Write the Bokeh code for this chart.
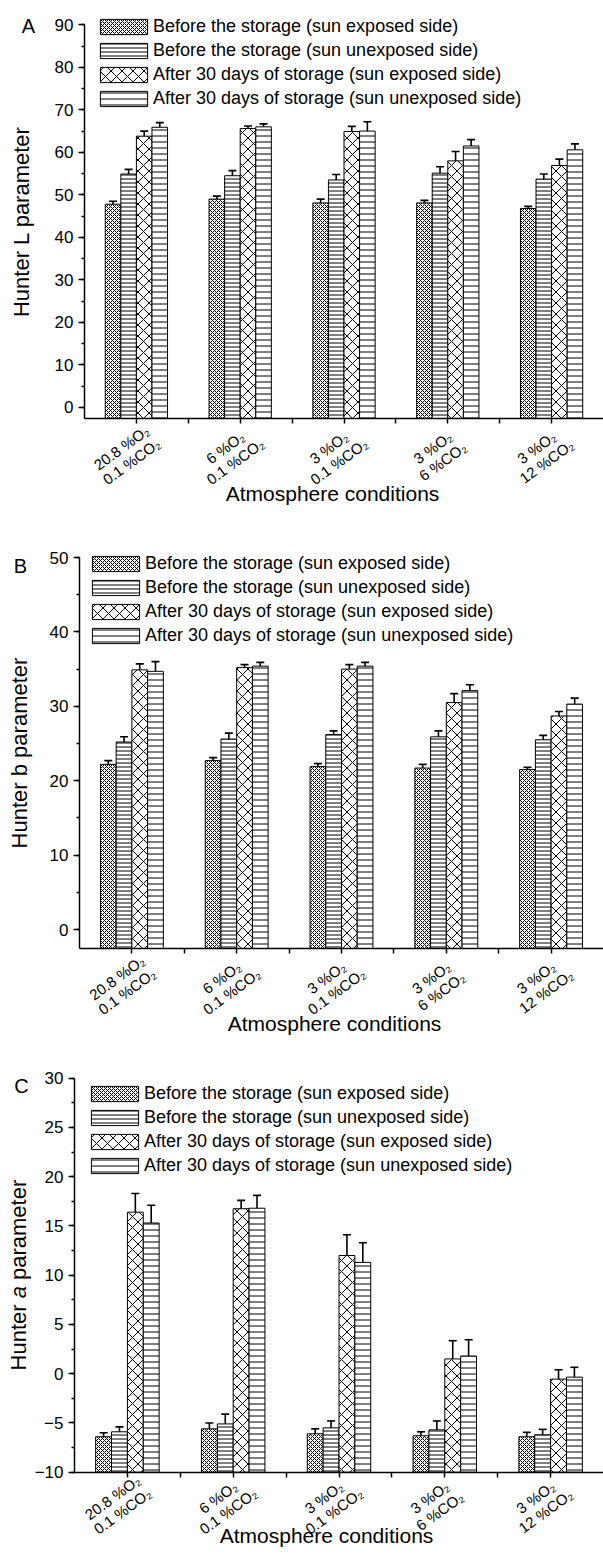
import numpy as np
from bokeh.plotting import figure
from bokeh.models import (ColumnDataSource, Range1d, FixedTicker, SingleIntervalTicker,
                          Whisker, TeeHead, Legend, LegendItem, Label)
from bokeh.layouts import column
from bokeh.embed import file_html
from bokeh.resources import INLINE

# ---------------- data ----------------
conditions_o2 = ["20.8 %O\u2082", "6 %O\u2082", "3 %O\u2082", "3 %O\u2082", "3 %O\u2082"]
conditions_co2 = ["0.1 %CO\u2082", "0.1 %CO\u2082", "0.1 %CO\u2082", "6 %CO\u2082", "12 %CO\u2082"]
series_names = ["Before the storage (sun exposed side)",
                "Before the storage (sun unexposed side)",
                "After 30 days of storage (sun exposed side)",
                "After 30 days of storage (sun unexposed side)"]

# Hunter L
L_before_exposed = [47.8, 49.0, 48.1, 48.1, 46.8]
L_before_exposed_err = [0.7, 0.7, 0.9, 0.6, 0.5]
L_before_unexposed = [54.9, 54.5, 53.5, 55.1, 53.7]
L_before_unexposed_err = [1.1, 1.2, 1.3, 1.5, 1.2]
L_after_exposed = [63.8, 65.6, 64.9, 58.0, 56.9]
L_after_exposed_err = [1.2, 0.6, 1.2, 2.2, 1.5]
L_after_unexposed = [65.9, 66.0, 65.0, 61.5, 60.6]
L_after_unexposed_err = [1.1, 0.7, 2.2, 1.5, 1.4]

# Hunter b
b_before_exposed = [22.2, 22.7, 21.9, 21.7, 21.5]
b_before_exposed_err = [0.5, 0.4, 0.4, 0.5, 0.3]
b_before_unexposed = [25.2, 25.6, 26.2, 25.9, 25.5]
b_before_unexposed_err = [0.7, 0.8, 0.5, 0.8, 0.6]
b_after_exposed = [34.9, 35.2, 35.0, 30.5, 28.7]
b_after_exposed_err = [0.8, 0.4, 0.6, 1.2, 0.6]
b_after_unexposed = [34.7, 35.4, 35.4, 32.1, 30.3]
b_after_unexposed_err = [1.3, 0.5, 0.5, 0.8, 0.8]

# Hunter a
a_before_exposed = [-6.4, -5.6, -6.1, -6.3, -6.4]
a_before_exposed_err = [0.4, 0.6, 0.5, 0.4, 0.45]
a_before_unexposed = [-5.9, -5.1, -5.5, -5.7, -6.2]
a_before_unexposed_err = [0.5, 1.0, 0.7, 0.9, 0.55]
a_after_exposed = [16.4, 16.75, 12.0, 1.5, -0.55]
a_after_exposed_err = [1.9, 0.85, 2.1, 1.85, 0.95]
a_after_unexposed = [15.3, 16.8, 11.3, 1.8, -0.35]
a_after_unexposed_err = [1.8, 1.3, 2.0, 1.65, 1.0]

# ---------------- styling ----------------
FONT = "Liberation Sans"
W = 603
HATCHES = [("diagonal_cross", 4.0), ("horizontal_line", 4.0),
           ("diagonal_cross", 11.0), ("horizontal_line", 6.0)]
OFFSETS = [-0.225, -0.075, 0.075, 0.225]
BAR_W = 0.15
LAB_ANGLE = float(np.deg2rad(36))
LINE_GAP = 17


def panel(series, errors, cfg):
    H = cfg["H"]
    ux = cfg["ux"]
    y_axis_top, y_axis_bot = cfg["ybounds"]
    uy = (cfg["ybot_px"] - cfg["ytop_px"]) / (y_axis_top - y_axis_bot)
    x_start = 0.5 - cfg["axis_px"] / ux
    x_end = x_start + W / ux
    y_end = y_axis_top + cfg["ytop_px"] / uy
    y_start = y_end - H / uy

    def dx(px):
        return x_start + px / ux

    def dy(py):
        return y_end - py / uy

    p = figure(width=W, height=H, x_range=Range1d(x_start, x_end), y_range=Range1d(y_start, y_end),
               output_backend="svg", toolbar_location=None, title=None,
               min_border_top=0, min_border_bottom=0, min_border_left=0, min_border_right=0)
    p.grid.visible = False
    p.outline_line_color = None
    y0 = y_axis_bot
    xs = np.arange(1, len(conditions_o2) + 1)
    items = []
    for k, (vals, errs) in enumerate(zip(series, errors)):
        v = np.array(vals, dtype=float)
        e = np.array(errs, dtype=float)
        src = ColumnDataSource(dict(x=xs + OFFSETS[k], top=v, lower=v - e, upper=v + e))
        pat, sc = HATCHES[k]
        r = p.vbar(x="x", top="top", bottom=y0, width=BAR_W, source=src,
                   fill_color="white", line_color="black", line_width=1,
                   hatch_pattern=pat, hatch_scale=sc, hatch_color="black", hatch_weight=1)
        p.add_layout(Whisker(source=src, base="x", lower="lower", upper="upper",
                             line_color="black", line_width=1.6,
                             upper_head=TeeHead(size=8, line_width=1.6, line_color="black"),
                             lower_head=TeeHead(size=8, line_width=1.6, line_color="black")))
        items.append(LegendItem(label=series_names[k], renderers=[r]))

    leg_top = cfg["leg_row1"] - 10.5
    leg = Legend(items=items, location=(cfg["leg_left"] - 6, H - (leg_top + 93)),
                 orientation="vertical",
                 glyph_width=59, glyph_height=19, label_height=21, label_standoff=0,
                 spacing=3, padding=0, margin=0,
                 label_text_font=FONT, label_text_font_size="18px", label_text_color="black",
                 background_fill_alpha=0, border_line_alpha=0)
    p.add_layout(leg)

    # y axis
    ya = p.yaxis[0]
    ya.fixed_location = 0.5
    ya.bounds = (y_axis_bot, y_axis_top)
    ya.ticker = SingleIntervalTicker(interval=cfg["major"], num_minor_ticks=2)
    ya.axis_line_width = 1.5
    ya.major_tick_line_width = 1.5
    ya.minor_tick_line_width = 1.5
    ya.major_tick_out = 6
    ya.major_tick_in = 0
    ya.minor_tick_out = 3
    ya.minor_tick_in = 0
    ya.major_label_standoff = 5
    ya.major_label_text_font = FONT
    ya.major_label_text_font_size = "17px"
    ya.major_label_text_color = "black"

    # x axis
    xa = p.xaxis[0]
    xa.fixed_location = y0
    xa.bounds = (0.5, 5.5)
    ticks = [1, 1.5, 2, 2.5, 3, 3.5, 4, 4.5, 5]
    xa.ticker = FixedTicker(ticks=ticks, minor_ticks=[])
    xa.major_label_overrides = {t: "" for t in ticks}
    xa.axis_line_width = 1.5
    xa.major_tick_line_width = 1.5
    xa.major_tick_out = 5
    xa.major_tick_in = 0

    # category labels below the x axis (two rotated lines each)
    bx, by = cfg["lab_off"]
    half = LINE_GAP / 2
    px_, py_ = -np.sin(LAB_ANGLE) * half, np.cos(LAB_ANGLE) * half
    for xi, t1, t2 in zip(xs, conditions_o2, conditions_co2):
        for txt, sgn in ((t1, 1), (t2, -1)):
            p.add_layout(Label(x=float(xi), y=y0, text=txt, angle=LAB_ANGLE,
                               x_offset=float(bx + sgn * px_), y_offset=float(by + sgn * py_),
                               text_align="center", text_baseline="middle",
                               text_color="black", text_font=FONT, text_font_size="15px"))

    # x axis title
    xlx, xly = cfg["xlab"]
    p.add_layout(Label(x=dx(xlx), y=dy(xly), text="Atmosphere conditions", text_font=FONT,
                       text_font_size="21px", text_align="center", text_baseline="middle",
                       text_color="black"))

    # y axis title (parts, to allow an italic letter)
    ycx = cfg["ylab_x"]
    ycy = (cfg["ytop_px"] + cfg["ybot_px"]) / 2
    for txt, align, off, style in cfg["ylab_parts"]:
        p.add_layout(Label(x=dx(ycx), y=dy(ycy), y_offset=off, text=txt, angle=np.pi / 2,
                           text_align=align, text_baseline="middle", text_font=FONT,
                           text_font_size="22px", text_font_style=style, text_color="black"))

    # panel letter
    lx, ly = cfg["letter_xy"]
    p.add_layout(Label(x=dx(lx), y=dy(ly), text=cfg["letter"], text_font=FONT,
                       text_font_size="20px", text_align="center", text_baseline="middle",
                       text_color="black"))
    return p


cfgA = dict(H=520, ux=103.8, axis_px=84, ybounds=(90, -2.6), ytop_px=24.3, ybot_px=418,
            major=10, leg_row1=26, leg_left=100, xlab=(332, 493), ylab_x=21,
            ylab_parts=[("Hunter L parameter", "center", 0, "normal")],
            letter="A", letter_xy=(28, 25), lab_off=(-10, -36))
cfgB = dict(H=520, ux=104.8, axis_px=79, ybounds=(50, -2.55), ytop_px=37, ybot_px=428,
            major=10, leg_row1=43, leg_left=92, xlab=(334, 503), ylab_x=19,
            ylab_parts=[("Hunter b parameter", "center", 0, "normal")],
            letter="B", letter_xy=(20, 45), lab_off=(-10, -36))
cfgC = dict(H=517, ux=105.8, axis_px=74, ybounds=(30, -10), ytop_px=37.7, ybot_px=431.7,
            major=5, leg_row1=53, leg_left=91, xlab=(326, 495), ylab_x=18,
            ylab_parts=[("Hunter", "right", -29.2, "normal"),
                        ("a", "center", -17, "italic"),
                        ("parameter", "left", -4.8, "normal")],
            letter="C", letter_xy=(21, 45), lab_off=(-10, -32))

pA = panel([L_before_exposed, L_before_unexposed, L_after_exposed, L_after_unexposed],
           [L_before_exposed_err, L_before_unexposed_err, L_after_exposed_err, L_after_unexposed_err],
           cfgA)
pB = panel([b_before_exposed, b_before_unexposed, b_after_exposed, b_after_unexposed],
           [b_before_exposed_err, b_before_unexposed_err, b_after_exposed_err, b_after_unexposed_err],
           cfgB)
pC = panel([a_before_exposed, a_before_unexposed, a_after_exposed, a_after_unexposed],
           [a_before_exposed_err, a_before_unexposed_err, a_after_exposed_err, a_after_unexposed_err],
           cfgC)

layout = column(pA, pB, pC)
open("out.html", "w").write(file_html(layout, INLINE))
